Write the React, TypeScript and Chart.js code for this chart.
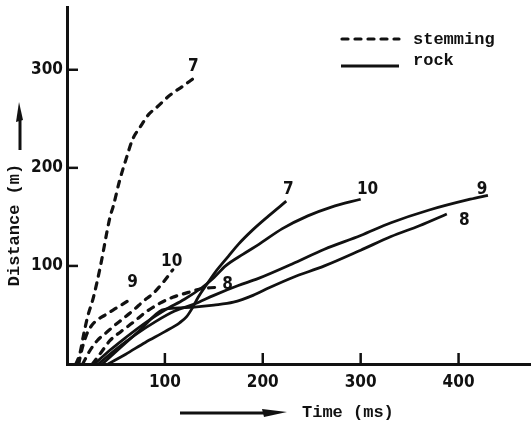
import React, { useEffect, useRef } from 'react';
import { Chart, registerables } from 'chart.js';

Chart.register(...registerables);

// ---- data (Time in ms, Distance in m) ----
const stem7X = [9, 13, 17, 21, 27, 34, 44, 47, 54, 61, 67, 75, 83, 92, 105, 118, 129];
const stem7Y = [0, 10, 30, 48, 68, 99, 150, 160, 188, 211, 229, 242, 254, 262, 274, 283, 291];
const stem9X = [12, 15, 20, 25, 31, 39, 47, 57, 66];
const stem9Y = [0, 14, 30, 39, 45, 50, 55, 61, 67];
const stem10X = [16, 23, 31, 39, 47, 57, 68, 78, 88, 98, 108];
const stem10Y = [0, 13, 24, 31, 38, 46, 55, 64, 72, 83, 96];
const stem8X = [26, 35, 44, 55, 67, 82, 95, 108, 124, 138, 151];
const stem8Y = [0, 12, 24, 33, 42, 54, 62, 68, 73, 77, 78];

const rock7X = [42, 60, 80, 100, 115, 122, 128, 134, 142, 151, 165, 175, 190, 206, 224];
const rock7Y = [0, 10, 22, 33, 42, 48, 57, 68, 80, 93, 110, 122, 137, 151, 166];
const rock10X = [28, 45, 60, 80, 100, 120, 138, 150, 162, 180, 196, 220, 246, 270, 300];
const rock10Y = [0, 15, 27, 42, 55, 66, 78, 88, 100, 112, 122, 138, 151, 160, 168];
const rock9X = [32, 50, 70, 90, 110, 130, 150, 175, 195, 230, 263, 300, 331, 370, 412, 430];
const rock9Y = [0, 15, 30, 43, 54, 61, 70, 80, 87, 102, 117, 131, 144, 157, 168, 172];
const rock8X = [36, 55, 75, 97, 110, 130, 150, 170, 190, 207, 230, 263, 300, 331, 360, 388];
const rock8Y = [0, 17, 35, 55, 57, 58, 60, 63, 70, 78, 88, 100, 116, 130, 141, 153];

// curve labels (text, x, y)
const curveLabelText = ['7', '9', '10', '8', '7', '10', '9', '8'];
const curveLabelX = [129, 67, 107, 164, 226, 307, 424, 406];
const curveLabelY = [303, 83, 104, 81, 178, 178, 178, 146];

const xTicks = [100, 200, 300, 400];
const yTicks = [100, 200, 300];
const xMax = 474;
const yMax = 364;

const legendLabels = ['stemming', 'rock'];
const xTitle = 'Time (ms)';
const yTitle = 'Distance (m)';

const INK = '#111111';
const MONO = "bold 17px 'Liberation Mono', 'DejaVu Sans Mono', monospace";
const NUMFONT_FAMILY = "'DejaVu Sans Condensed', 'Liberation Sans Narrow', 'DejaVu Sans', sans-serif";

const pts = (xs: number[], ys: number[]) => xs.map((x, i) => ({ x, y: ys[i] }));

const stemStyle = {
  borderColor: INK,
  borderWidth: 3.2,
  borderDash: [6, 7],
  borderCapStyle: 'round' as const,
  pointRadius: 0,
  showLine: true,
  cubicInterpolationMode: 'monotone' as const,
};
const rockStyle = {
  borderColor: INK,
  borderWidth: 2.8,
  pointRadius: 0,
  showLine: true,
  cubicInterpolationMode: 'monotone' as const,
};

const decorPlugin = {
  id: 'decor',
  afterDraw(chart: any) {
    const ctx = chart.ctx as CanvasRenderingContext2D;
    const xs = chart.scales.x;
    const ys = chart.scales.y;
    const area = chart.chartArea;
    ctx.save();
    ctx.strokeStyle = INK;
    ctx.fillStyle = INK;
    // inner tick marks
    ctx.lineWidth = 2.5;
    xTicks.forEach((v) => {
      const px = xs.getPixelForValue(v);
      ctx.beginPath();
      ctx.moveTo(px, area.bottom);
      ctx.lineTo(px, area.bottom - 11);
      ctx.stroke();
    });
    yTicks.forEach((v) => {
      const py = ys.getPixelForValue(v);
      ctx.beginPath();
      ctx.moveTo(area.left, py);
      ctx.lineTo(area.left + 11, py);
      ctx.stroke();
    });
    // curve labels
    ctx.font = `bold 17px ${NUMFONT_FAMILY}`;
    ctx.textAlign = 'center';
    ctx.textBaseline = 'middle';
    curveLabelText.forEach((t, i) => {
      ctx.fillText(t, xs.getPixelForValue(curveLabelX[i]), ys.getPixelForValue(curveLabelY[i]));
    });
    // legend
    ctx.font = MONO;
    ctx.textAlign = 'left';
    ctx.textBaseline = 'middle';
    ctx.lineWidth = 3.2;
    ctx.lineCap = 'round';
    ctx.setLineDash([6, 7]);
    ctx.beginPath();
    ctx.moveTo(342, 39);
    ctx.lineTo(399, 39);
    ctx.stroke();
    ctx.setLineDash([]);
    ctx.lineWidth = 2.8;
    ctx.lineCap = 'butt';
    ctx.beginPath();
    ctx.moveTo(341, 66);
    ctx.lineTo(399, 66);
    ctx.stroke();
    ctx.fillText(legendLabels[0], 413, 40);
    ctx.fillText(legendLabels[1], 413, 61);
    // x title with arrow
    ctx.fillText(xTitle, 302, 413);
    ctx.lineWidth = 3;
    ctx.beginPath();
    ctx.moveTo(180, 413);
    ctx.lineTo(268, 413);
    ctx.stroke();
    ctx.beginPath();
    ctx.moveTo(287, 412);
    ctx.lineTo(262, 409);
    ctx.lineTo(264, 417);
    ctx.closePath();
    ctx.fill();
    // y title with arrow
    ctx.save();
    ctx.translate(15, 225);
    ctx.rotate(-Math.PI / 2);
    ctx.textAlign = 'center';
    ctx.fillText(yTitle, 0, 0);
    ctx.restore();
    ctx.lineWidth = 3;
    ctx.beginPath();
    ctx.moveTo(20, 150);
    ctx.lineTo(20, 116);
    ctx.stroke();
    ctx.beginPath();
    ctx.moveTo(19, 102);
    ctx.lineTo(16, 122);
    ctx.lineTo(23, 120);
    ctx.closePath();
    ctx.fill();
    ctx.restore();
  },
};

export default function App() {
  const ref = useRef<HTMLCanvasElement | null>(null);
  useEffect(() => {
    document.body.style.margin = '0';
    document.body.style.background = '#ffffff';
    const canvas = ref.current;
    if (!canvas) return;
    const chart = new Chart(canvas, {
      type: 'scatter',
      data: {
        datasets: [
          { label: 'stemming 7', data: pts(stem7X, stem7Y), ...stemStyle },
          { label: 'stemming 9', data: pts(stem9X, stem9Y), ...stemStyle },
          { label: 'stemming 10', data: pts(stem10X, stem10Y), ...stemStyle },
          { label: 'stemming 8', data: pts(stem8X, stem8Y), ...stemStyle },
          { label: 'rock 7', data: pts(rock7X, rock7Y), ...rockStyle },
          { label: 'rock 10', data: pts(rock10X, rock10Y), ...rockStyle },
          { label: 'rock 9', data: pts(rock9X, rock9Y), ...rockStyle },
          { label: 'rock 8', data: pts(rock8X, rock8Y), ...rockStyle },
        ],
      },
      options: {
        animation: false,
        responsive: false,
        maintainAspectRatio: false,
        layout: { padding: { top: 7, left: 0, right: 0, bottom: 0 } },
        plugins: { legend: { display: false }, tooltip: { enabled: false } },
        scales: {
          x: {
            type: 'linear',
            min: 0,
            max: xMax,
            afterFit: (s: any) => { s.height = 64; s.paddingLeft = 0; s.paddingRight = 0; },
            afterBuildTicks: (s: any) => { s.ticks = xTicks.map((v) => ({ value: v })); },
            grid: { display: false, drawTicks: false },
            border: { display: true, color: INK, width: 3 },
            ticks: { color: INK, padding: 8, font: { family: NUMFONT_FAMILY, size: 17, weight: 'bold' } },
          },
          y: {
            type: 'linear',
            min: 0,
            max: yMax,
            afterFit: (s: any) => { s.width = 67; s.paddingTop = 0; s.paddingBottom = 0; },
            afterBuildTicks: (s: any) => { s.ticks = yTicks.map((v) => ({ value: v })); },
            grid: { display: false, drawTicks: false },
            border: { display: true, color: INK, width: 3 },
            ticks: { color: INK, padding: 4, font: { family: NUMFONT_FAMILY, size: 17, weight: 'bold' } },
          },
        },
      },
      plugins: [decorPlugin],
    });
    return () => chart.destroy();
  }, []);
  return (
    <div style={{ width: 531, height: 428, background: '#fff' }}>
      <canvas ref={ref} width={531} height={428} style={{ display: 'block' }} />
    </div>
  );
}
